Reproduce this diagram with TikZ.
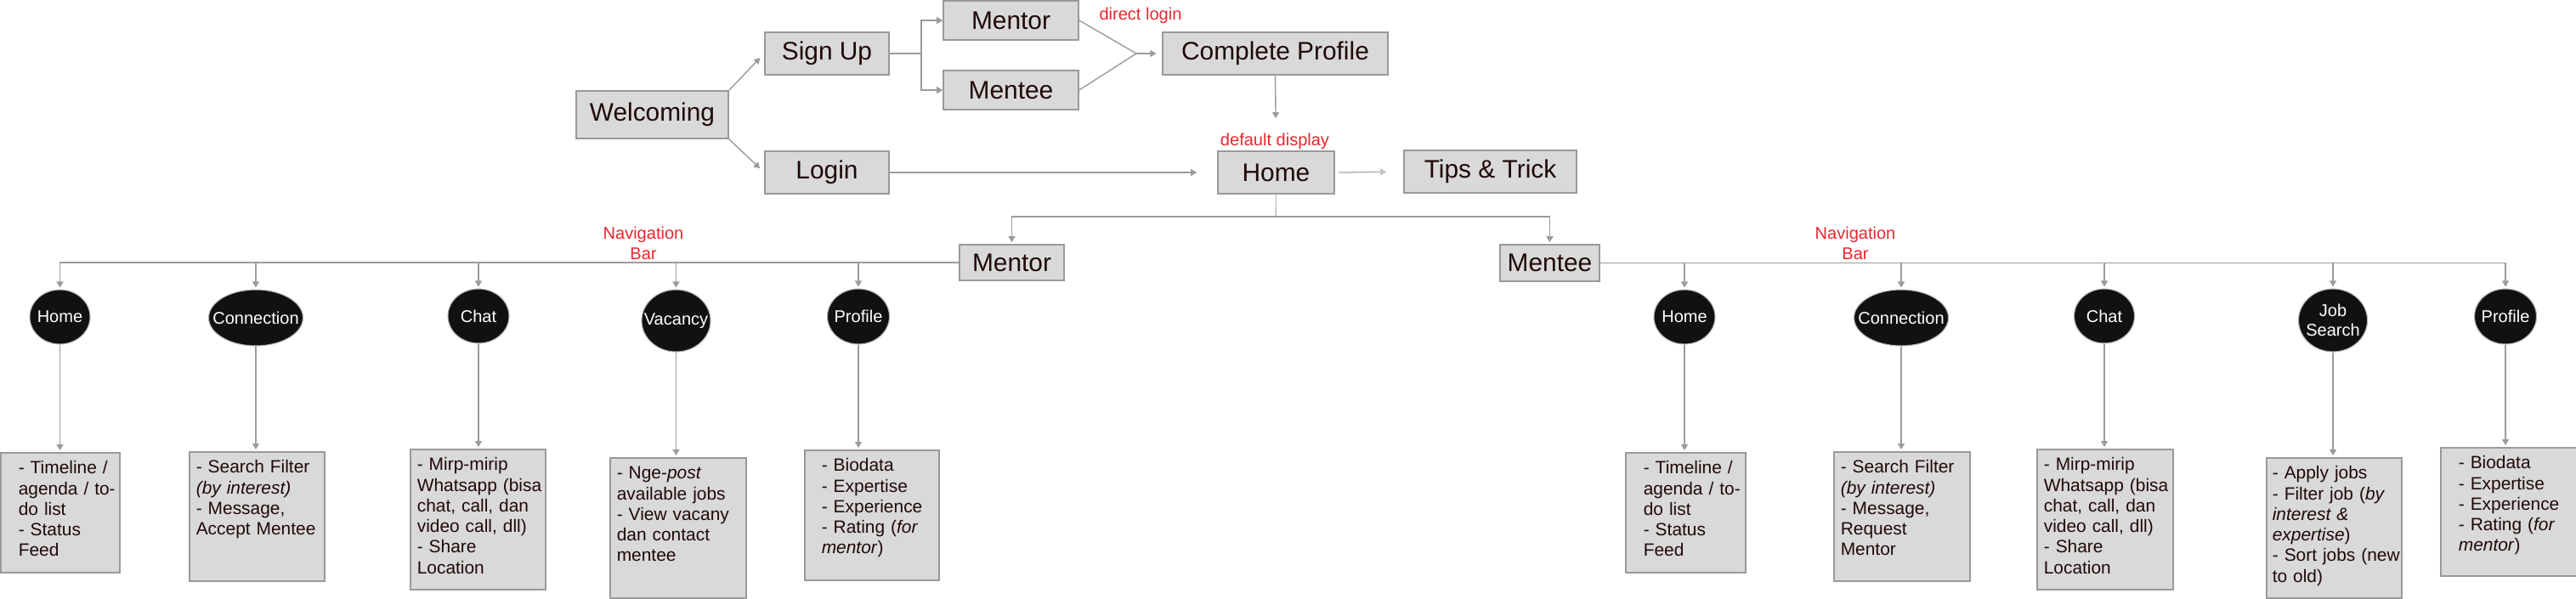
\documentclass[tikz,border=0pt]{standalone}
\usepackage{fontspec}
\setmainfont{Liberation Sans}
\usetikzlibrary{arrows.meta,positioning,shapes}

\definecolor{boxfill}{HTML}{D9D9D9}
\definecolor{boxline}{HTML}{999999}
\definecolor{linkgray}{HTML}{9B9B9B}
\definecolor{linklight}{HTML}{C4C4C4}
\definecolor{notered}{HTML}{E8262E}
\definecolor{inkdark}{HTML}{200808}
\definecolor{dotfill}{HTML}{111111}

\begin{document}
\begin{tikzpicture}[align=center,>={Triangle[length=0.07cm,width=0.08cm]},
    pagebox/.style={rectangle,draw=boxline,fill=boxfill,line width=0.45pt,text=inkdark,inner sep=0pt,font=\fontsize{8.5}{10}\selectfont},
    menudot/.style={ellipse,draw=gray!60,fill=dotfill,line width=0.3pt,inner sep=0pt},
    dotlabel/.style={text=white,inner sep=0pt,align=center,font=\fontsize{5.7}{6.6}\selectfont},
    notebox/.style={rectangle,draw=boxline,fill=boxfill,line width=0.45pt,text=inkdark,align=left,anchor=north west,
        inner xsep=0.04cm,inner ysep=0.09cm,text height=0.16cm,font=\fontsize{5.95}{6.9}\selectfont,
        padleft=0.04cm},
    padleft/.style={execute at begin node={\leftskip=#1\rightskip=-0.04cm plus 1fil\relax}},
    redlabel/.style={text=notered,inner sep=0pt,font=\fontsize{5.7}{6.8}\selectfont},
    flowline/.style={draw=linkgray,line width=0.4pt}]
    \useasboundingbox (0,0) rectangle (30.31,-7.04);

    % entry screens
      \node[pagebox,minimum width=1.79cm,minimum height=0.56cm] (wel) at (7.675,-1.35) {Welcoming};
      \node[pagebox,minimum width=1.46cm,minimum height=0.50cm] (sgn) at (9.73,-0.63) {Sign Up};
      \node[pagebox,minimum width=1.46cm,minimum height=0.50cm] (lgn) at (9.73,-2.03) {Login};
      \node[pagebox,minimum width=1.59cm,minimum height=0.46cm] (mtrA) at (11.895,-0.24) {Mentor};
      \node[pagebox,minimum width=1.59cm,minimum height=0.46cm] (mteA) at (11.895,-1.06) {Mentee};
      \node[pagebox,minimum width=2.645cm,minimum height=0.50cm] (cp) at (15.005,-0.63) {Complete Profile};
      \node[pagebox,minimum width=1.37cm,minimum height=0.50cm] (homeA) at (15.015,-2.03) {Home};
      \node[pagebox,minimum width=2.03cm,minimum height=0.50cm] (tips) at (17.535,-2.02) {Tips \& Trick};

      \node[redlabel] (lblDirect) at (13.42,-0.18) {direct login};
      \node[redlabel] (lblDefault) at (15.0,-1.66) {default display};

      \coordinate (fork) at (10.84,-0.63);
      \coordinate (merge) at (13.37,-0.63);
      \coordinate (hub) at (15.01,-2.55);

      % entry connections
      \draw[flowline,->,shorten >=0.07cm] (wel.north east) -- (sgn.west);
      \draw[flowline,->,shorten >=0.07cm] (wel.south east) -- (lgn.west);
      \draw[flowline,->] (sgn.east) -- (fork) |- (mtrA.west);
      \draw[flowline,->] (fork) |- (mteA.west);
      \draw[flowline] (mtrA.east) -- (merge) -- (mteA.east);
      \draw[flowline,->,shorten >=0.07cm] (merge) -- (cp.west);
      \draw[flowline,->,shorten >=0.38cm] (cp.south) -- (homeA.north);
      \draw[flowline,->,shorten >=0.24cm] (lgn.east) -- (homeA.west);
      \draw[flowline,draw=linklight,line width=0.6pt,->,shorten <=0.04cm,shorten >=0.2cm] (homeA.east) -- (tips.west);
      \draw[flowline,draw=linklight] (homeA.south) -- (hub);

    % roles
      \node[pagebox,minimum width=1.23cm,minimum height=0.42cm] (mtrB) at (11.905,-3.09) {Mentor};
      \node[pagebox,minimum width=1.17cm,minimum height=0.43cm] (mteB) at (18.235,-3.095) {Mentee};
      \draw[flowline,->,shorten >=0.02cm] (hub) -| (mtrB.north);
      \draw[flowline,->,shorten >=0.02cm] (hub) -| (mteB.north);

      \node[redlabel] (navA) at (7.57,-2.86) {Navigation\\Bar};
      \node[redlabel] (navB) at (21.83,-2.86) {Navigation\\Bar};

    % mentor menu
      \node[menudot,minimum width=0.71cm,minimum height=0.64cm,label={[dotlabel]center:Home}] (hmB) at (0.705,-3.73) {};
      \node[menudot,minimum width=1.11cm,minimum height=0.66cm,label={[dotlabel]center:Connection}] (cnB) at (3.01,-3.74) {};
      \node[menudot,minimum width=0.72cm,minimum height=0.64cm,label={[dotlabel]center:Chat}] (chB) at (5.63,-3.72) {};
      \node[menudot,minimum width=0.81cm,minimum height=0.73cm,label={[dotlabel]center:Vacancy}] (vcB) at (7.955,-3.775) {};
      \node[menudot,minimum width=0.73cm,minimum height=0.65cm,label={[dotlabel]center:Profile}] (pfB) at (10.10,-3.725) {};

      \draw[flowline,->,shorten >=0.02cm] (mtrB.west) -| (hmB.north);
      \foreach \m in {cnB,chB,vcB,pfB}
        \draw[flowline,->,shorten >=0.02cm] (\m.north |- mtrB.west) -- (\m.north);

    % mentee menu
      \node[menudot,minimum width=0.72cm,minimum height=0.64cm,label={[dotlabel]center:Home}] (hmC) at (19.82,-3.73) {};
      \node[menudot,minimum width=1.11cm,minimum height=0.66cm,label={[dotlabel]center:Connection}] (cnC) at (22.37,-3.74) {};
      \node[menudot,minimum width=0.71cm,minimum height=0.64cm,label={[dotlabel]center:Chat}] (chC) at (24.76,-3.72) {};
      \node[menudot,minimum width=0.81cm,minimum height=0.74cm,label={[dotlabel]center:{Job\\Search}}] (jbC) at (27.45,-3.77) {};
      \node[menudot,minimum width=0.73cm,minimum height=0.65cm,label={[dotlabel]center:Profile}] (pfC) at (29.48,-3.725) {};

      \draw[flowline,->,shorten >=0.02cm] (mteB.east) -| (pfC.north);
      \foreach \m in {hmC,cnC,chC,jbC}
        \draw[flowline,->,shorten >=0.02cm] (\m.north |- mteB.east) -- (\m.north);

    % mentor notes
      \node[notebox,padleft=0.17cm,text width=1.32cm,text depth=1.07cm] (hmT) at (0,-5.32)
        {- Timeline /\\agenda / to-\\do list\\- Status\\Feed};
      \node[notebox,text width=1.51cm,text depth=1.18cm] (cnT) at (2.22,-5.31)
        {- Search Filter\\\textit{(by interest)}\\- Message,\\Accept Mentee};
      \node[notebox,text width=1.51cm,text depth=1.31cm] (chT) at (4.82,-5.28)
        {- Mirp-mirip\\Whatsapp (bisa\\chat, call, dan\\video call, dll)\\- Share\\Location};
      \node[notebox,text width=1.52cm,text depth=1.31cm] (vcT) at (7.17,-5.38)
        {- Nge-\textit{post}\\available jobs\\- View vacany\\dan contact\\mentee};
      \node[notebox,padleft=0.16cm,text width=1.50cm,text depth=1.19cm] (pfT) at (9.46,-5.29)
        {- Biodata\\- Expertise\\- Experience\\- Rating (\textit{for}\\\textit{mentor})};

      \foreach \m/\t in {hmB/hmT,cnB/cnT,chB/chT,vcB/vcT,pfB/pfT}
        \draw[flowline,->,shorten >=0.02cm] (\m.south) -- (\m.south |- \t.north);

    % mentee notes
      \node[notebox,padleft=0.17cm,text width=1.33cm,text depth=1.07cm] (hmU) at (19.12,-5.32)
        {- Timeline /\\agenda / to-\\do list\\- Status\\Feed};
      \node[notebox,text width=1.52cm,text depth=1.18cm] (cnU) at (21.57,-5.31)
        {- Search Filter\\\textit{(by interest)}\\- Message,\\Request\\Mentor};
      \node[notebox,text width=1.52cm,text depth=1.31cm] (chU) at (23.96,-5.28)
        {- Mirp-mirip\\Whatsapp (bisa\\chat, call, dan\\video call, dll)\\- Share\\Location};
      \node[notebox,padleft=0.03cm,text width=1.51cm,text depth=1.31cm] (jbU) at (26.66,-5.38)
        {- Apply jobs\\- Filter job (\textit{by}\\\textit{interest \&}\\\textit{expertise})\\- Sort jobs (new\\to old)};
      \node[notebox,padleft=0.17cm,text width=1.52cm,text depth=1.17cm] (pfU) at (28.71,-5.26)
        {- Biodata\\- Expertise\\- Experience\\- Rating (\textit{for}\\\textit{mentor})};

      \foreach \m/\t in {hmC/hmU,cnC/cnU,chC/chU,jbC/jbU,pfC/pfU}
        \draw[flowline,->,shorten >=0.02cm] (\m.south) -- (\m.south |- \t.north);

    \end{tikzpicture}
\end{document}
